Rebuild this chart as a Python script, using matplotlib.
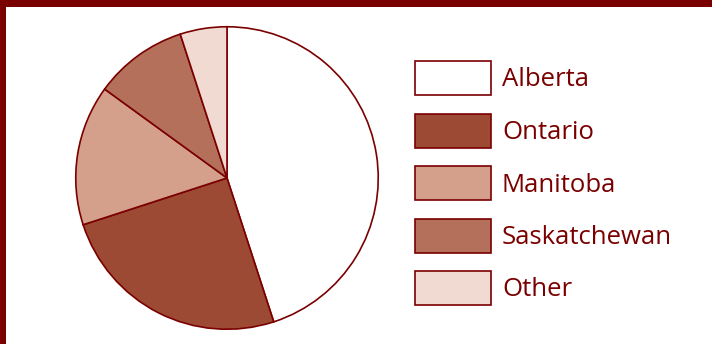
import matplotlib
matplotlib.use("Agg")
import matplotlib.pyplot as plt
from matplotlib.patches import Rectangle

categories = ["Alberta", "Ontario", "Manitoba", "Saskatchewan", "Other"]
values = [45, 25, 15, 10, 5]
colors = ["#ffffff", "#9c4a33", "#d4a08c", "#b5705c", "#f0dad2"]
edge = "#7a0000"

W, H = 712, 344
fig = plt.figure(figsize=(W / 100, H / 100), dpi=100)
fig.patch.set_facecolor("white")

# border strips (top and left)
fig.patches.append(Rectangle((0, 1 - 7 / H), 1, 7 / H, transform=fig.transFigure,
                             facecolor=edge, edgecolor="none", zorder=10))
fig.patches.append(Rectangle((0, 0), 6 / W, 1, transform=fig.transFigure,
                             facecolor=edge, edgecolor="none", zorder=10))

cx, cy, r = 227, 178, 152
ax = fig.add_axes([(cx - r) / W, (H - cy - r) / H, 2 * r / W, 2 * r / H])
ax.pie(values, colors=colors, startangle=90, counterclock=False,
       wedgeprops=dict(edgecolor=edge, linewidth=1.2))
ax.set_xlim(-1.005, 1.005)
ax.set_ylim(-1.005, 1.005)
ax.set_aspect("equal")
ax.axis("off")

# legend
box_x, box_w, box_h = 415, 76, 34
y0, dy = 78, 52.5
for i, (cat, col) in enumerate(zip(categories, colors)):
    yc = y0 + i * dy
    fig.patches.append(Rectangle((box_x / W, (H - yc - box_h / 2) / H), box_w / W, box_h / H,
                                 transform=fig.transFigure, facecolor=col,
                                 edgecolor=edge, linewidth=1.2))
    fig.text(502 / W, (H - yc - 2) / H, cat, fontsize=18.5, color=edge,
             family="Open Sans", va="center", ha="left")

fig.savefig("out.png", dpi=100, facecolor="white")
